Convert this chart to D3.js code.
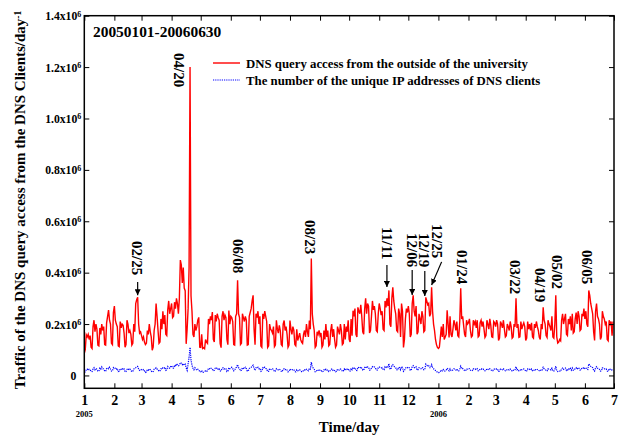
<!DOCTYPE html>
<html><head><meta charset="utf-8">
<script src="https://cdn.jsdelivr.net/npm/d3@7/dist/d3.min.js"></script>
<style>
body{margin:0;background:#fff}
svg{display:block}
text{font-family:"Liberation Serif","Times New Roman",Times,serif;font-weight:bold;fill:#000}
</style>
</head><body>
<svg id="c" width="620" height="438"></svg>
<script>
// ---------- data ----------
const startDate = "2005-01-01";
const endDate = "2006-07-01";
const yTicks = [0, 0.2e6, 0.4e6, 0.6e6, 0.8e6, 1.0e6, 1.2e6, 1.4e6];
const yTickLabels = ["0", "0.2x10", "0.4x10", "0.6x10", "0.8x10", "1.0x10", "1.2x10", "1.4x10"];
const titleText = "20050101-20060630";
const seriesNames = ["DNS query access from the outside of the university",
                     "The number of the unique IP addresses of DNS clients"];
// daily values (thousands), one row per week: Sat, Sun, Mon, Tue, Wed, Thu, Fri
const redK = [
 [86,100,158,150,160,140,155],[110,105,190,215,170,200,180],[118,115,185,160,200,175,190],
 [120,118,205,230,254,215,200],[125,120,245,270,215,200,190],[115,112,210,185,200,195,165],
 [110,120,215,200,165,175,160],[118,125,200,170,280,295,304],[200,165,170,155,140,150,130],
 [120,125,175,160,200,170,150],[98,110,175,200,280,230,175],[125,130,220,180,250,200,235],
 [160,155,255,290,240,260,280],[225,230,285,260,300,280,240],[300,449,430,360,420,340,330],
 [123,180,260,420,1200,310,250],[160,150,200,175,190,215,226],[110,109,160,105,108,104,140],
 [130,125,220,200,230,215,247],[140,130,235,210,240,225,215],[125,108,230,250,215,235,225],
 [140,120,253,200,230,225,210],[120,118,230,240,370,240,225],[120,125,240,225,210,230,215],
 [118,120,230,245,260,290,312],[180,120,240,225,250,200,230],[115,110,240,220,250,230,210],
 [109,115,200,180,175,165,190],[112,118,215,180,165,195,175],[120,115,200,214,175,190,160],
 [110,118,214,180,160,190,175],[120,115,180,136,150,165,140],[130,125,160,175,150,200,170],
 [150,214,180,455,240,200,175],[109,115,170,160,175,155,165],[110,118,175,140,200,150,175],
 [115,120,175,200,150,180,140],[110,118,190,175,160,200,175],[120,125,200,140,190,170,215],
 [140,130,220,155,252,230,260],[160,150,265,250,240,275,230],[170,160,260,300,240,280,270],
 [165,175,230,290,255,270,240],[175,170,240,280,260,235,250],[180,175,290,265,300,270,331],
 [200,190,300,343,290,260,240],[175,170,260,240,150,280,250],[109,140,220,260,245,270,240],
 [150,160,280,312,250,230,270],[160,170,240,220,200,250,230],[170,175,304,290,275,280,230],
 [240,343,250,200,175,140,120],[109,105,110,148,190,150,200],[140,150,160,254,200,148,230],
 [160,150,180,215,200,175,210],[155,150,210,339,220,230,195],[160,150,215,200,205,220,175],
 [150,155,215,200,210,185,215],[150,155,205,215,190,210,180],[148,155,215,200,180,220,195],
 [150,148,210,205,190,215,200],[136,145,210,200,185,215,180],[150,155,200,190,175,210,190],
 [145,150,200,190,300,185,200],[148,150,210,180,195,205,190],[136,145,210,180,200,175,205],
 [150,145,200,185,210,190,175],[148,140,200,180,265,215,200],[155,148,215,200,190,175,230],
 [150,145,200,312,150,126,130],[140,135,215,240,200,220,240],[160,155,220,200,230,175,240],
 [165,170,220,245,200,250,230],[175,180,240,230,260,220,250],[200,190,331,312,280,260,240],
 [170,136,250,280,230,220,200],[140,150,250,230,220,200,210],[140,135,215,200,210,155,210]
];
const blueK = [
 [15,14,22,25,20,24,22],[16,15,25,30,22,27,24],[17,16,28,24,33,26,25],[18,16,27,30,26,32,25],
 [17,18,30,26,28,24,27],[15,16,26,24,28,22,25],[14,15,24,27,22,25,20],[15,16,25,28,30,33,35],
 [25,20,24,22,20,23,18],[12,14,22,20,25,22,18],[13,15,24,26,30,25,22],[16,18,26,24,30,28,32],
 [20,22,35,30,28,34,38],[30,28,40,35,45,42,38],[40,50,48,42,46,40,44],[30,20,45,70,109,60,40],
 [28,22,30,25,20,24,22],[15,14,20,12,13,15,18],[16,18,28,26,30,27,25],[18,20,28,26,30,24,27],
 [18,17,27,30,25,28,26],[15,17,30,26,28,32,27],[18,20,30,32,42,30,28],[18,20,30,28,26,32,27],
 [17,18,27,30,32,36,40],[28,20,30,28,32,26,28],[16,18,30,27,32,28,25],[15,16,26,24,22,25,24],
 [15,17,26,23,22,25,22],[16,15,24,26,22,25,21],[14,16,25,22,20,24,22],[15,14,22,18,20,22,18],
 [15,14,20,22,19,24,21],[18,28,25,52,35,28,24],[14,15,22,20,23,20,21],[14,15,22,19,24,20,22],
 [15,16,22,25,20,23,19],[14,16,24,22,21,25,23],[16,17,25,20,24,22,27],[18,17,28,22,31,28,30],
 [20,19,32,30,28,33,29],[21,20,31,35,29,33,32],[21,22,29,34,31,33,30],[22,21,30,33,31,29,31],
 [23,22,34,31,36,33,46],[26,24,38,42,36,33,30],[22,21,32,30,22,34,31],[16,19,28,32,30,33,30],
 [20,21,34,38,31,29,33],[21,22,30,28,26,31,29],[22,23,44,40,36,38,30],[30,42,32,26,23,19,17],
 [12,11,12,16,21,18,23],[17,18,20,28,24,18,26],[19,18,22,26,24,21,25],[18,18,25,36,26,27,23],
 [19,18,26,24,25,26,21],[18,19,26,24,25,22,26],[18,19,25,26,23,25,22],[18,19,26,24,22,26,23],
 [18,18,25,25,23,26,24],[16,17,25,24,22,26,22],[18,19,24,23,21,25,23],[17,18,24,23,34,22,24],
 [18,18,25,22,23,25,23],[16,17,25,22,24,21,25],[18,17,24,22,25,23,21],[18,17,24,22,32,26,24],
 [19,18,26,24,23,21,28],[18,17,24,36,18,15,16],[17,16,26,29,24,27,29],[19,19,27,24,28,21,29],
 [20,21,27,30,24,30,28],[21,22,29,28,32,27,30],[24,23,45,40,36,33,30],[21,17,30,34,28,27,24],
 [17,18,30,28,27,24,25],[17,16,26,24,25,19,22]
];
// annotations: date, label, label layout (dx px, top value), optional arrow (from/to values)
const annotations = [
 {date:"2005-02-25", text:"02/25", dx:0,  top:523e3,  arrow:{dx0:0,  v0:364e3, dx1:0, v1:312e3}},
 {date:"2005-04-20", text:"04/20", dx:-11, top:1255e3},
 {date:"2005-06-08", text:"06/08", dx:1,  top:531e3},
 {date:"2005-08-23", text:"08/23", dx:-1, top:605e3},
 {date:"2005-11-11", text:"11/11", dx:-2, top:578e3,  arrow:{dx0:-2, v0:430e3, dx1:-2, v1:344e3}},
 {date:"2005-12-06", text:"12/06", dx:-1, top:554e3,  arrow:{dx0:-1, v0:410e3, dx1:-1, v1:313e3}},
 {date:"2005-12-19", text:"12/19", dx:-2, top:554e3,  arrow:{dx0:-1, v0:406e3, dx1:-1, v1:309e3}},
 {date:"2005-12-25", text:"12/25", dx:6,  top:589e3,  arrow:{dx0:10, v0:442e3, dx1:0, v1:352e3}},
 {date:"2006-01-24", text:"01/24", dx:2,  top:488e3},
 {date:"2006-03-22", text:"03/22", dx:-1, top:449e3},
 {date:"2006-04-19", text:"04/19", dx:-3, top:418e3},
 {date:"2006-05-02", text:"05/02", dx:1,  top:469e3},
 {date:"2006-06-05", text:"06/05", dx:-2, top:488e3}
];

// ---------- chart ----------
const svg = d3.select("#c");
const M = {l:84.3, r:614, t:15.7, b:388.3};
const parse = d3.timeParse("%Y-%m-%d");
const t0 = parse(startDate), t1 = parse(endDate);
const x = d3.scaleTime().domain([t0, t1]).range([M.l, M.r]);
const y = d3.scaleLinear().domain([-0.05e6, 1.4e6]).range([M.b, M.t]);

const redData = redK.flat().map((v,i)=>({d:d3.timeDay.offset(t0,i), v:v*1000}));
const blueData = blueK.flat().map((v,i)=>({d:d3.timeDay.offset(t0,i), v:v*1000}));

svg.append("clipPath").attr("id","clip").append("rect")
  .attr("x",M.l).attr("y",M.t).attr("width",M.r-M.l).attr("height",M.b-M.t);

const line = d3.line().x(d=>x(d.d)).y(d=>y(d.v));

svg.append("path").datum(blueData).attr("clip-path","url(#clip)")
  .attr("d",line).attr("fill","none").attr("stroke","#0000ff")
  .attr("stroke-width",1.2).attr("stroke-dasharray","1.2,1");
svg.append("path").datum(redData).attr("clip-path","url(#clip)")
  .attr("d",line).attr("fill","none").attr("stroke","#ff0000")
  .attr("stroke-width",1.4).attr("stroke-linejoin","miter");

// axes
const months = d3.timeMonth.range(t0, d3.timeDay.offset(t1,1));
const gx = svg.append("g").attr("transform",`translate(0,${M.b})`)
  .call(d3.axisBottom(x).tickValues(months).tickSize(-5).tickFormat(d=>d.getMonth()+1));
gx.select(".domain").remove();
gx.selectAll("text").attr("y",17).attr("dy",0).style("font-size","14px");
const gxt = svg.append("g").attr("transform",`translate(0,${M.t})`)
  .call(d3.axisTop(x).tickValues(months).tickSize(-5).tickFormat(""));
gxt.select(".domain").remove();

const gy = svg.append("g").attr("transform",`translate(${M.l},0)`)
  .call(d3.axisLeft(y).tickValues(yTicks).tickSize(-5).tickFormat((d,i)=>yTickLabels[i]));
gy.select(".domain").remove();
gy.selectAll("text").attr("x",(d)=> d===0 ? -8 : -3).attr("dy","0.35em").style("font-size","11.7px")
  .each(function(d){ if(d!==0){ d3.select(this).append("tspan").attr("dy","-0.45em").style("font-size","8px").text("6"); }});
const gyr = svg.append("g").attr("transform",`translate(${M.r},0)`)
  .call(d3.axisRight(y).tickValues(yTicks).tickSize(-5).tickFormat(""));
gyr.select(".domain").remove();

svg.append("rect").attr("x",M.l).attr("y",M.t).attr("width",M.r-M.l).attr("height",M.b-M.t)
  .attr("fill","none").attr("stroke","#000").attr("stroke-width",1.5);

// year labels
[t0, parse("2006-01-01")].forEach(d=>{
  svg.append("text").attr("x",x(d)).attr("y",417).attr("text-anchor","middle")
    .style("font-size","8.5px").text(d.getFullYear());
});

// axis titles
svg.append("text").attr("x",(M.l+M.r)/2).attr("y",432).attr("text-anchor","middle")
  .style("font-size","15px").text("Time/day");
const yt = svg.append("text").attr("transform","translate(25,200) rotate(-90)")
  .attr("text-anchor","middle").style("font-size","15px")
  .text("Traffic of the DNS query access from the DNS Clients/day");
yt.append("tspan").attr("dy","-0.45em").style("font-size","9.5px").text("-1");

// title
svg.append("text").attr("x",93).attr("y",37).style("font-size","15.4px").text(titleText);

// legend
const lg = [{c:"#ff0000", dash:null, w:1.4, y:63}, {c:"#0000ff", dash:"1.2,1", w:1.2, y:80}];
lg.forEach((l,i)=>{
  svg.append("line").attr("x1",213).attr("x2",240).attr("y1",l.y).attr("y2",l.y)
    .attr("stroke",l.c).attr("stroke-width",l.w).attr("stroke-dasharray",l.dash);
  svg.append("text").attr("x",246).attr("y",l.y+4.5).style("font-size","12.8px").text(seriesNames[i]);
});

// annotations
const defs = svg.append("defs");
defs.append("marker").attr("id","ah").attr("viewBox","0 0 10 10").attr("refX",10).attr("refY",5)
  .attr("markerWidth",5).attr("markerHeight",5).attr("orient","auto")
  .append("path").attr("d","M0,0L10,5L0,10z").attr("fill","#000");
annotations.forEach(a=>{
  const xd = x(parse(a.date));
  const lx = xd + a.dx, ly = y(a.top);
  svg.append("text").attr("transform",`translate(${lx},${ly}) rotate(90)`)
    .attr("dy","0.35em").style("font-size","15px").text(a.text);
  if(a.arrow){
    svg.append("line").attr("x1",xd+a.arrow.dx0).attr("y1",y(a.arrow.v0))
      .attr("x2",xd+a.arrow.dx1).attr("y2",y(a.arrow.v1))
      .attr("stroke","#000").attr("stroke-width",1.2).attr("marker-end","url(#ah)");
  }
});
</script>
</body></html>
